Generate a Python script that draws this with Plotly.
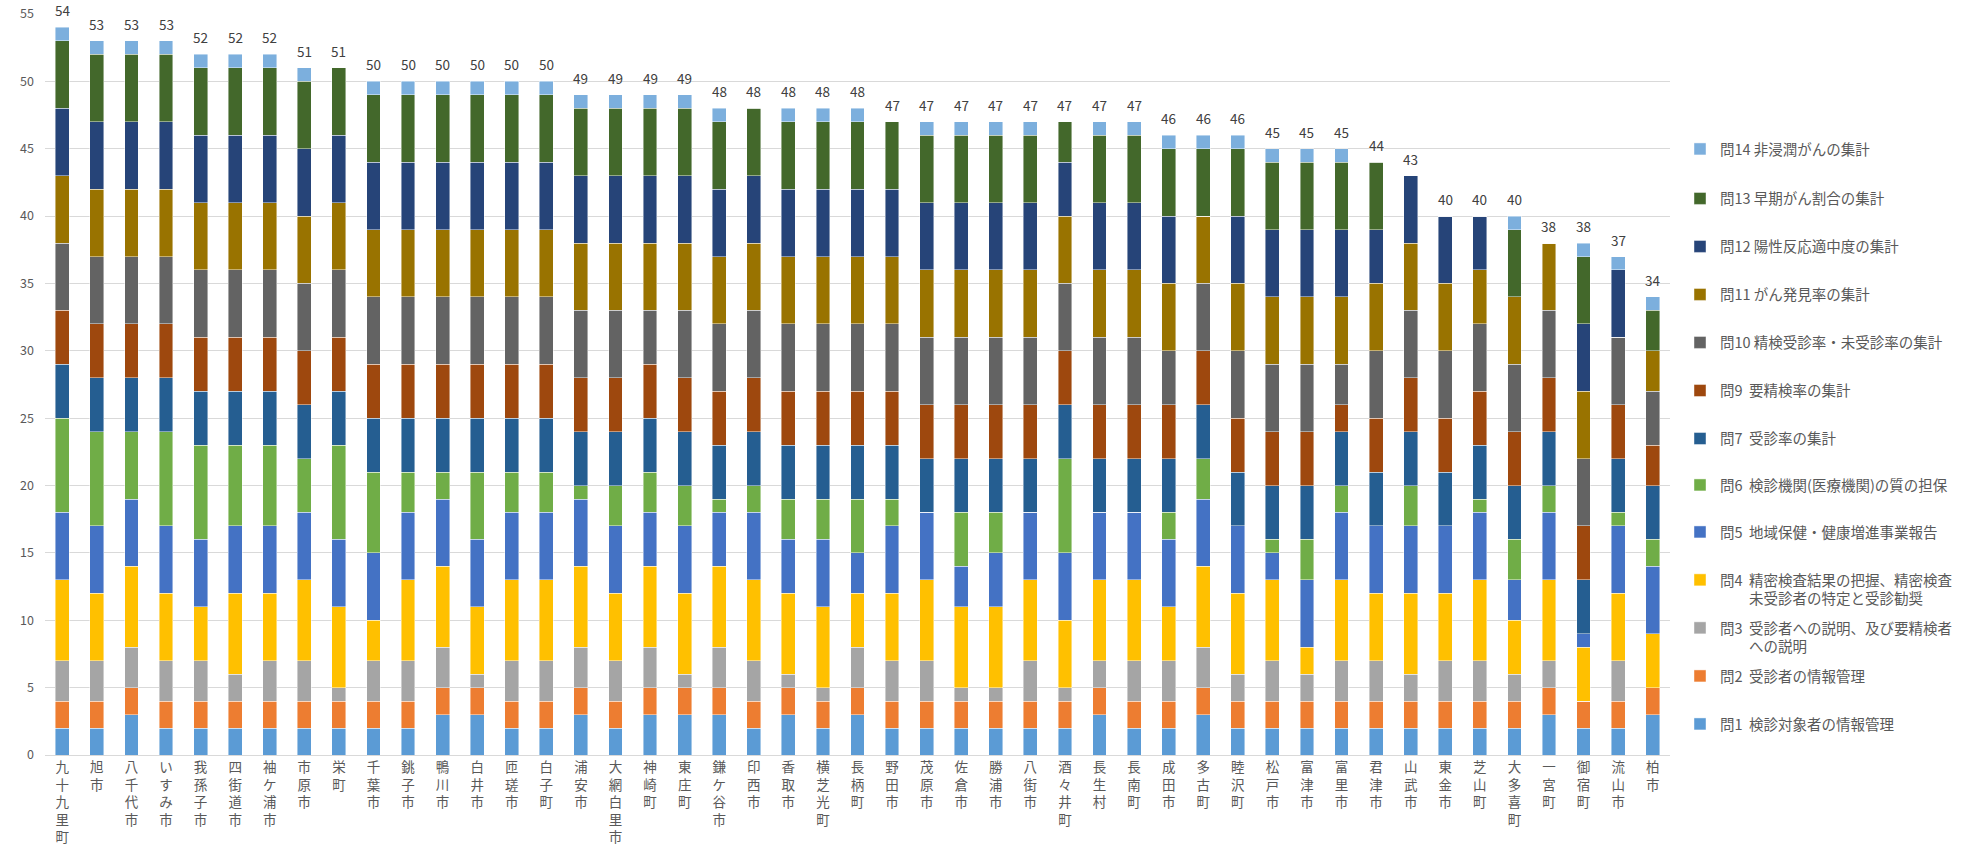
import plotly.graph_objects as go

municipalities = ["九十九里町", "旭市", "八千代市", "いすみ市", "我孫子市", "四街道市", "袖ケ浦市", "市原市", "栄町",
                  "千葉市", "銚子市", "鴨川市", "白井市", "匝瑳市", "白子町", "浦安市", "大網白里市", "神崎町",
                  "東庄町", "鎌ケ谷市", "印西市", "香取市", "横芝光町", "長柄町", "野田市", "茂原市", "佐倉市",
                  "勝浦市", "八街市", "酒々井町", "長生村", "長南町", "成田市", "多古町", "睦沢町", "松戸市",
                  "富津市", "富里市", "君津市", "山武市", "東金市", "芝山町", "大多喜町", "一宮町", "御宿町",
                  "流山市", "柏市"]

q1 = [2, 2, 3, 2, 2, 2, 2, 2, 2, 2, 2, 3, 3, 2, 2, 3, 2, 3, 3, 3, 2, 3, 2, 3, 2, 2, 2, 2, 2, 2,
      3, 2, 2, 3, 2, 2, 2, 2, 2, 2, 2, 2, 2, 3, 2, 2, 3]
q2 = [2, 2, 2, 2, 2, 2, 2, 2, 2, 2, 2, 2, 2, 2, 2, 2, 2, 2, 2, 2, 2, 2, 2, 2, 2, 2, 2, 2, 2, 2,
      2, 2, 2, 2, 2, 2, 2, 2, 2, 2, 2, 2, 2, 2, 2, 2, 2]
q3 = [3, 3, 3, 3, 3, 2, 3, 3, 1, 3, 3, 3, 1, 3, 3, 3, 3, 3, 1, 3, 3, 1, 1, 3, 3, 3, 1, 1, 3, 1,
      2, 3, 3, 3, 2, 3, 2, 3, 3, 2, 3, 3, 2, 2, 0, 3, 0]
q4 = [6, 5, 6, 5, 4, 6, 5, 6, 6, 3, 6, 6, 5, 6, 6, 6, 5, 6, 6, 6, 6, 6, 6, 4, 5, 6, 6, 6, 6, 5,
      6, 6, 4, 6, 6, 6, 2, 6, 5, 6, 5, 6, 4, 6, 4, 5, 4]
q5 = [5, 5, 5, 5, 5, 5, 5, 5, 5, 5, 5, 5, 5, 5, 5, 5, 5, 4, 5, 4, 5, 4, 5, 3, 5, 5, 3, 4, 5, 5,
      5, 5, 5, 5, 5, 2, 5, 5, 5, 5, 5, 5, 3, 5, 1, 5, 5]
q6 = [7, 7, 5, 7, 7, 6, 6, 4, 7, 6, 3, 2, 5, 3, 3, 1, 3, 3, 3, 1, 2, 3, 3, 4, 2, 0, 4, 3, 0, 7,
      0, 0, 2, 3, 0, 1, 3, 2, 0, 3, 0, 1, 3, 2, 0, 1, 2]
q7 = [4, 4, 4, 4, 4, 4, 4, 4, 4, 4, 4, 4, 4, 4, 4, 4, 4, 4, 4, 4, 4, 4, 4, 4, 4, 4, 4, 4, 4, 4,
      4, 4, 4, 4, 4, 4, 4, 4, 4, 4, 4, 4, 4, 4, 4, 4, 4]
q9 = [4, 4, 4, 4, 4, 4, 4, 4, 4, 4, 4, 4, 4, 4, 4, 4, 4, 4, 4, 4, 4, 4, 4, 4, 4, 4, 4, 4, 4, 4,
      4, 4, 4, 4, 4, 4, 4, 2, 4, 4, 4, 4, 4, 4, 4, 4, 3]
q10 = [5, 5, 5, 5, 5, 5, 5, 5, 5, 5, 5, 5, 5, 5, 5, 5, 5, 4, 5, 5, 5, 5, 5, 5, 5, 5, 5, 5, 5, 5,
       5, 5, 4, 5, 5, 5, 5, 3, 5, 5, 5, 5, 5, 5, 5, 5, 4]
q11 = [5, 5, 5, 5, 5, 5, 5, 5, 5, 5, 5, 5, 5, 5, 5, 5, 5, 5, 5, 5, 5, 5, 5, 5, 5, 5, 5, 5, 5, 5,
       5, 5, 5, 5, 5, 5, 5, 5, 5, 5, 5, 4, 5, 5, 5, 0, 3]
q12 = [5, 5, 5, 5, 5, 5, 5, 5, 5, 5, 5, 5, 5, 5, 5, 5, 5, 5, 5, 5, 5, 5, 5, 5, 5, 5, 5, 5, 5, 4,
       5, 5, 5, 0, 5, 5, 5, 5, 4, 5, 5, 4, 0, 0, 5, 5, 0]
q13 = [5, 5, 5, 5, 5, 5, 5, 5, 5, 5, 5, 5, 5, 5, 5, 5, 5, 5, 5, 5, 5, 5, 5, 5, 5, 5, 5, 5, 5, 3,
       5, 5, 5, 5, 5, 5, 5, 5, 5, 0, 0, 0, 5, 0, 5, 0, 3]
q14 = [1, 1, 1, 1, 1, 1, 1, 1, 0, 1, 1, 1, 1, 1, 1, 1, 1, 1, 1, 1, 0, 1, 1, 1, 0, 1, 1, 1, 1, 0,
       1, 1, 1, 1, 1, 1, 1, 1, 0, 0, 0, 0, 1, 0, 1, 1, 1]

series_names = [
    "問1\u00a0\u00a0検診対象者の情報管理",
    "問2\u00a0\u00a0受診者の情報管理",
    "問3\u00a0\u00a0受診者への説明、及び要精検者<br>\u3000\u3000への説明",
    "問4\u00a0\u00a0精密検査結果の把握、精密検査<br>\u3000\u3000未受診者の特定と受診勧奨",
    "問5\u00a0\u00a0地域保健・健康増進事業報告",
    "問6\u00a0\u00a0検診機関(医療機関)の質の担保",
    "問7\u00a0\u00a0受診率の集計",
    "問9\u00a0\u00a0要精検率の集計",
    "問10 精検受診率・未受診率の集計",
    "問11 がん発見率の集計",
    "問12 陽性反応適中度の集計",
    "問13 早期がん割合の集計",
    "問14 非浸潤がんの集計",
]
series_values = [q1, q2, q3, q4, q5, q6, q7, q9, q10, q11, q12, q13, q14]
series_colors = ["#5B9BD5", "#ED7D31", "#A5A5A5", "#FFC000", "#4472C4", "#70AD47", "#255E91",
                 "#9E480E", "#636363", "#997300", "#264478", "#43682B", "#7CAFDD"]

# layout geometry (pixels)
W, H = 1982, 851
ML, MR, MT, MB = 45, 312, 14, 96
plot_w = W - ML - MR
plot_h = H - MT - MB
legend_rows_px = [724, 676, 628, 580, 532, 485, 438.6, 390.6, 342.5, 294.5, 246.5, 198.5, 149]
LEG_FONT = 14.5

tick_text = ["<br>".join(list(m)) for m in municipalities]
totals = [sum(v[i] for v in series_values) for i in range(len(municipalities))]

fig = go.Figure()
layout_legends = {}
for i, (name, vals, col) in enumerate(zip(series_names, series_values, series_colors)):
    lid = "legend" if i == 0 else f"legend{i + 1}"
    fig.add_trace(go.Bar(
        x=municipalities, y=vals, name=name,
        marker=dict(color=col, line=dict(color="rgba(255,255,255,0.55)", width=0.8)),
        legend=lid,
    ))
    yc = legend_rows_px[i]
    if "<br>" in name:
        yc += 0.65 * LEG_FONT
    layout_legends[lid] = dict(
        x=(1680 - ML) / plot_w, xanchor="left",
        y=(H - MB - yc) / plot_h, yanchor="middle",
        bgcolor="rgba(0,0,0,0)", valign="top",
        font=dict(size=LEG_FONT, color="#595959", family="Noto Sans CJK JP"),
    )

annotations = [
    dict(x=m, y=t, text=str(t), showarrow=False, yanchor="bottom", yshift=5,
         font=dict(size=13.5, color="#404040", family="Noto Sans CJK JP"))
    for m, t in zip(municipalities, totals)
]

fig.update_layout(
    width=W, height=H,
    margin=dict(l=ML, r=MR, t=MT, b=MB, autoexpand=False),
    barmode="stack", bargap=0.6,
    plot_bgcolor="white", paper_bgcolor="white",
    font=dict(family="Noto Sans CJK JP", color="#595959"),
    showlegend=True,
    annotations=annotations,
    **layout_legends,
)
fig.update_yaxes(range=[0, 55], dtick=5, gridcolor="#D9D9D9", gridwidth=1, zeroline=False,
                 showline=False, ticks="", ticklabelstandoff=10, automargin=False,
                 tickfont=dict(size=12.5, color="#595959"))
fig.update_xaxes(range=[-0.5, len(municipalities) - 0.5], tickvals=municipalities, ticktext=tick_text,
                 showline=True, linecolor="#D9D9D9", ticks="", tickangle=0, automargin=False,
                 tickfont=dict(size=13.5, color="#595959"))

fig.write_html("out.html", config={"displayModeBar": False},
               post_script="document.body.style.margin='0';")
